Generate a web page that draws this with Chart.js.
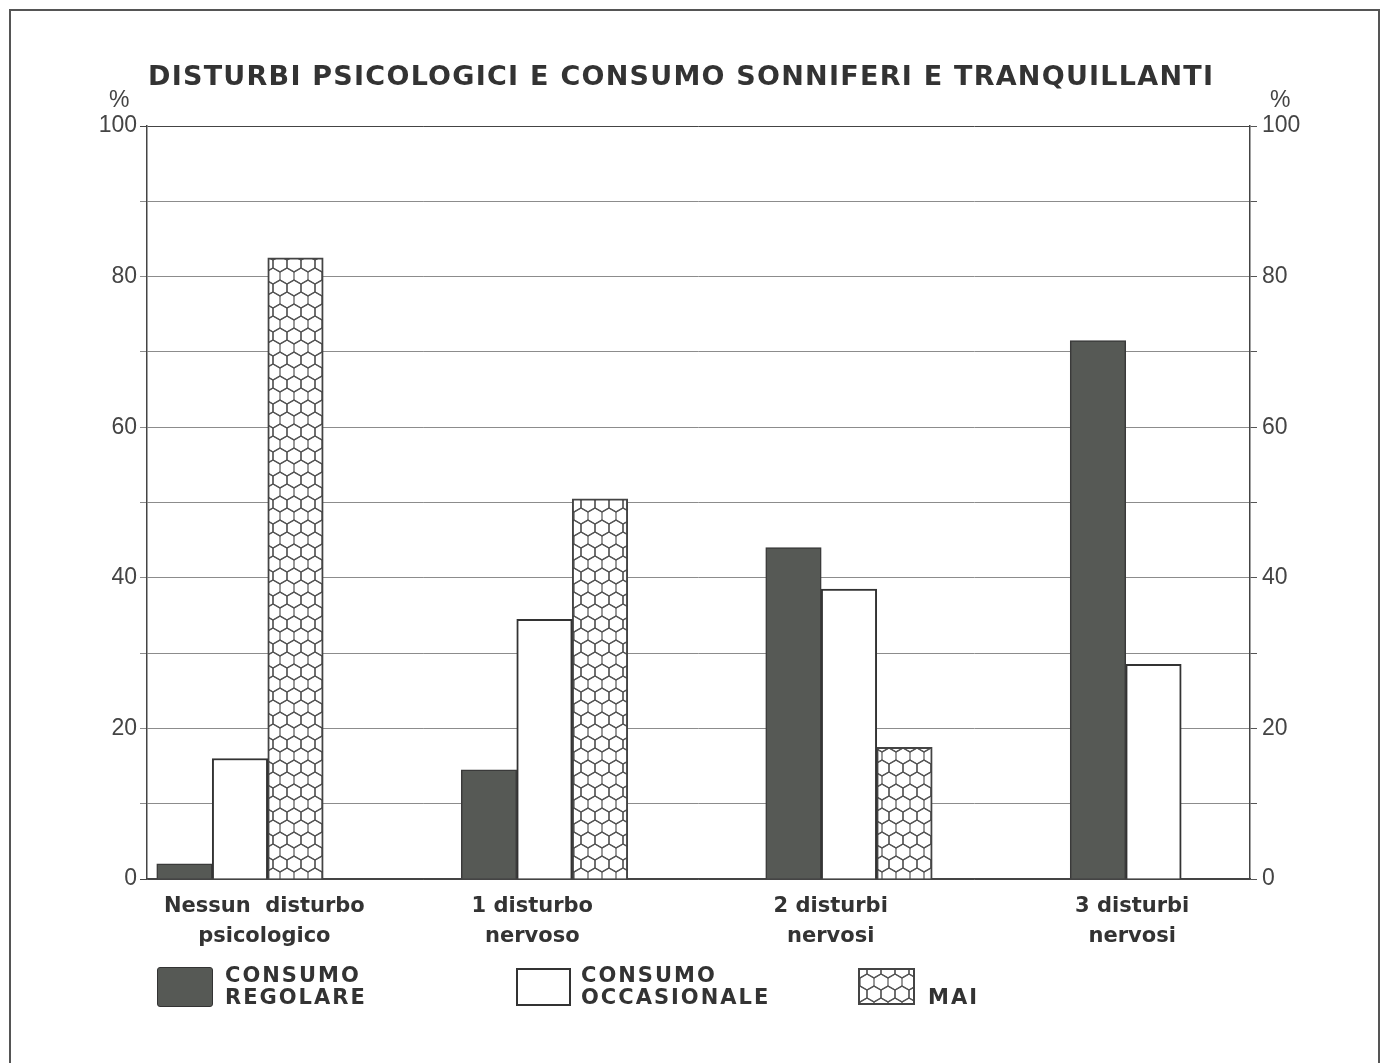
<!DOCTYPE html>
<html>
<head>
<meta charset="utf-8">
<script src="https://cdn.jsdelivr.net/npm/chart.js@4"></script>
<style>
  body { margin: 0; background: #fff; overflow: hidden; }
  #wrap { position: relative; width: 1385px; height: 1063px; }
  #frame { position: absolute; left: 9px; top: 9px; width: 1367px; height: 1100px; border: 2px solid #555; }
  #chart { position: absolute; left: 0; top: 0; }
  .txt { position: absolute; font-family: "DejaVu Sans", sans-serif; color: #333; white-space: nowrap; }
  #title { left: 148px; top: 60px; font-size: 27px; font-weight: bold; }
  .pct { font-family: "Liberation Sans", sans-serif; font-size: 23px; color: #444; top: 86px; }
  .leg { font-size: 21px; font-weight: bold; line-height: 22px; letter-spacing: 2px; }
  .sw { position: absolute; box-sizing: border-box; }
</style>
</head>
<body>
<div id="wrap">
  <div id="frame"></div>
  <canvas id="chart" width="1385" height="1063"></canvas>
  <div id="title" class="txt">DISTURBI PSICOLOGICI E CONSUMO SONNIFERI E TRANQUILLANTI</div>
  <div class="txt pct" style="left:109px">%</div>
  <div class="txt pct" style="left:1270px">%</div>

  <div class="sw" style="left:157px;top:967px;width:56px;height:40px;background:#565955;border:1px solid #333;border-radius:3px"></div>
  <div class="txt leg" style="left:225px;top:964px">CONSUMO<br>REGOLARE</div>
  <div class="sw" style="left:516px;top:968px;width:55px;height:38px;background:#fff;border:2px solid #333"></div>
  <div class="txt leg" style="left:581px;top:964px">CONSUMO<br>OCCASIONALE</div>
  <div id="maiSw" class="sw" style="left:858px;top:968px;width:57px;height:37px;border:2px solid #444"></div>
  <div class="txt leg" style="left:928px;top:986px">MAI</div>
</div>
<script>
// dati (percentuali)
const categories = [['Nessun  disturbo', 'psicologico'], ['1 disturbo', 'nervoso'], ['2 disturbi', 'nervosi'], ['3 disturbi', 'nervosi']];
const seriesNames = ['CONSUMO REGOLARE', 'CONSUMO OCCASIONALE', 'MAI'];
const regolare = [2, 14.5, 44, 71.5];
const occasionale = [16, 34.5, 38.5, 28.5];
const mai = [82.5, 50.5, 17.5, 0];
const yLabels = [0, 20, 40, 60, 80, 100];

// where the category captions sit along the x scale
const labelAt = [0.08, 0.96, 1.94, 2.93];

// honeycomb pattern
function hexTile() {
  const c = document.createElement('canvas');
  c.width = 14; c.height = 24;
  const g = c.getContext('2d');
  g.fillStyle = '#fff';
  g.fillRect(0, 0, 14, 24);
  g.strokeStyle = '#555';
  g.lineWidth = 1.2;
  const centers = [[0, 0], [14, 0], [7, 12], [0, 24], [14, 24]];
  centers.forEach(([cx, cy]) => {
    g.beginPath();
    g.moveTo(cx, cy - 8);
    g.lineTo(cx + 7, cy - 4);
    g.lineTo(cx + 7, cy + 4);
    g.lineTo(cx, cy + 8);
    g.lineTo(cx - 7, cy + 4);
    g.lineTo(cx - 7, cy - 4);
    g.closePath();
    g.stroke();
  });
  return c;
}
const tile = hexTile();
const ctx = document.getElementById('chart').getContext('2d');
const hexPattern = ctx.createPattern(tile, 'repeat');
document.getElementById('maiSw').style.background = 'url(' + tile.toDataURL() + ')';

// stretch the title to the width it has in the picture
const title = document.getElementById('title');
const tw = title.getBoundingClientRect().width;
const tl = title.textContent.length;
title.style.letterSpacing = ((1065 - tw) / (tl - 1)) + 'px';

const toPoints = arr => arr.map((v, i) => ({ x: i, y: v }));

const data = {
  datasets: [
    { label: seriesNames[0], data: toPoints(regolare), backgroundColor: '#565955', borderColor: '#3a3a3a', borderWidth: 1.5 },
    { label: seriesNames[1], data: toPoints(occasionale), backgroundColor: '#ffffff', borderColor: '#333', borderWidth: 2 },
    { label: seriesNames[2], data: toPoints(mai), backgroundColor: hexPattern, borderColor: '#444', borderWidth: 2 }
  ]
};

const gridColor = c => (c.tick && (c.tick.value === 100 || c.tick.value === 0)) ? '#444' : '#8c8c8c';
const yTick = v => yLabels.includes(v) ? v : '';

const config = {
  type: 'bar',
  data: data,
  options: {
    responsive: false,
    animation: false,
    layout: { padding: { left: 67, right: 55, top: 126, bottom: 84 } },
    barThickness: 55.5,
    scales: {
      x: {
        type: 'linear',
        offset: false,
        min: -0.3054,
        max: 3.317,
        grid: { display: false },
        border: { display: true, color: '#444', width: 1.5 },
        afterBuildTicks: s => { s.ticks = labelAt.map(v => ({ value: v })); },
        afterFit: s => { s.height = 100; },
        ticks: {
          autoSkip: false,
          maxRotation: 0,
          padding: 5,
          color: '#333',
          font: { family: 'DejaVu Sans', size: 21, weight: 'bold', lineHeight: 1.4 },
          callback: (v, i) => categories[i]
        }
      },
      y: {
        position: 'left',
        min: 0,
        max: 100,
        afterFit: s => { s.width = 80; },
        grid: { color: gridColor, lineWidth: 1, tickLength: 7 },
        border: { color: '#444', width: 1.5 },
        ticks: { stepSize: 10, padding: 3, color: '#444', font: { family: 'Liberation Sans', size: 23 }, callback: yTick }
      },
      y2: {
        position: 'right',
        min: 0,
        max: 100,
        afterFit: s => { s.width = 80; },
        grid: { drawOnChartArea: false, color: '#555', tickLength: 7 },
        border: { color: '#444', width: 1.5 },
        ticks: { stepSize: 10, padding: 5, color: '#444', font: { family: 'Liberation Sans', size: 23 }, callback: yTick }
      }
    },
    plugins: {
      legend: { display: false },
      tooltip: { enabled: false }
    }
  }
};

new Chart(ctx, config);
</script>
</body>
</html>
